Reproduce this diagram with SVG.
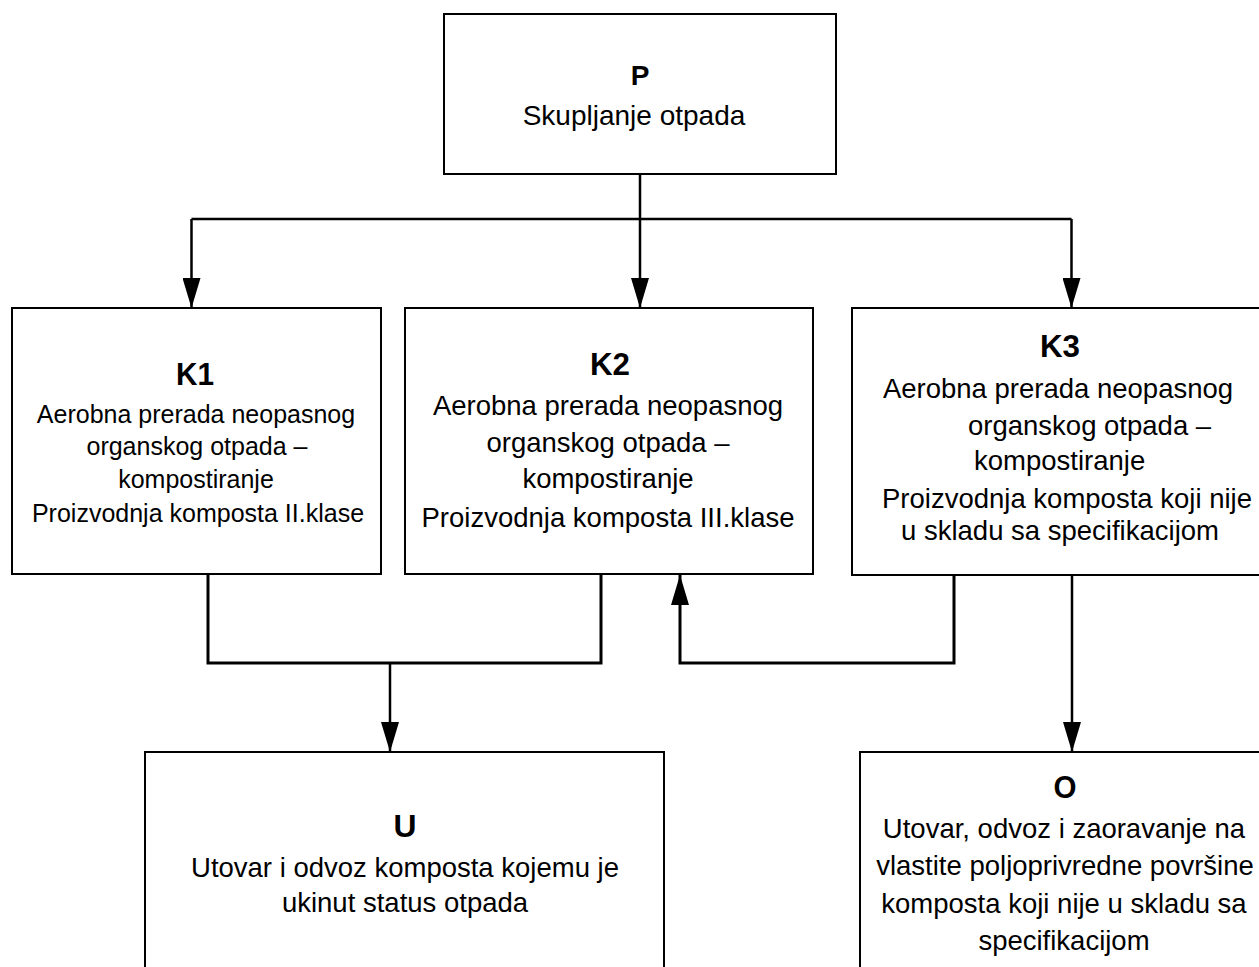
<svg xmlns="http://www.w3.org/2000/svg" width="1259" height="967" viewBox="0 0 1259 967">
  <style>
    .box { fill: #ffffff; stroke: #000000; stroke-width: 2; }
    .conn { fill: none; stroke: #000000; stroke-width: 2.5; }
    .thick { stroke-width: 3; }
    .title { font-family: "Liberation Sans", Arial, sans-serif; font-weight: bold; fill: #000000; text-anchor: middle; }
    .body { font-family: "Liberation Sans", Arial, sans-serif; fill: #000000; text-anchor: middle; }
    .left { text-anchor: start; }
  </style>
  <defs>
    <marker id="arrow" markerUnits="userSpaceOnUse" markerWidth="30" markerHeight="18" refX="30" refY="9" orient="auto">
      <path d="M0,0 L30,9 L0,18 z" fill="#000000"/>
    </marker>
  </defs>
  <rect width="1259" height="967" fill="#ffffff"/>

  <g id="connectors">
    <path class="conn" d="M640,174 V219"/>
    <path class="conn" d="M191.5,219 H1071.5"/>
    <path class="conn" d="M191.5,219 V308" marker-end="url(#arrow)"/>
    <path class="conn" d="M640,219 V308" marker-end="url(#arrow)"/>
    <path class="conn" d="M1071.5,219 V308" marker-end="url(#arrow)"/>
    <path class="conn thick" d="M208,574 V663 H601 V574"/>
    <path class="conn" d="M390,663 V752" marker-end="url(#arrow)"/>
    <path class="conn thick" d="M954,575 V663 H680 V575" marker-end="url(#arrow)"/>
    <path class="conn" d="M1072,575 V752" marker-end="url(#arrow)"/>
  </g>

  <g id="node-P">
    <rect class="box" x="444" y="14" width="392" height="160"/>
    <text class="title" x="640" y="85" font-size="28">P</text>
    <text class="body" x="634" y="125" font-size="28">Skupljanje otpada</text>
  </g>

  <g id="node-K1">
    <rect class="box" x="12" y="308" width="369" height="266"/>
    <text class="title" x="195" y="385" font-size="32" textLength="38" lengthAdjust="spacingAndGlyphs">K1</text>
    <text class="body" x="196" y="423" font-size="25">Aerobna prerada neopasnog</text>
    <text class="body" x="197" y="455" font-size="25">organskog otpada –</text>
    <text class="body" x="196" y="488" font-size="25">kompostiranje</text>
    <text class="body" x="198" y="522" font-size="25">Proizvodnja komposta II.klase</text>
  </g>

  <g id="node-K2">
    <rect class="box" x="405" y="308" width="408" height="266"/>
    <text class="title" x="610" y="375" font-size="32" textLength="40" lengthAdjust="spacingAndGlyphs">K2</text>
    <text class="body" x="608" y="415" font-size="27.5">Aerobna prerada neopasnog</text>
    <text class="body" x="608" y="452" font-size="27.5">organskog otpada –</text>
    <text class="body" x="608" y="488" font-size="27.5">kompostiranje</text>
    <text class="body" x="608" y="527" font-size="27.5">Proizvodnja komposta III.klase</text>
  </g>

  <g id="node-K3">
    <rect class="box" x="852" y="308" width="420" height="267"/>
    <text class="title" x="1060" y="357" font-size="32" textLength="40" lengthAdjust="spacingAndGlyphs">K3</text>
    <text class="body" x="1058" y="398" font-size="27.5">Aerobna prerada neopasnog</text>
    <text class="body left" x="968" y="435" font-size="27.5">organskog otpada –</text>
    <text class="body left" x="974" y="470" font-size="27.5">kompostiranje</text>
    <text class="body" x="1067" y="508" font-size="27.5">Proizvodnja komposta koji nije</text>
    <text class="body" x="1060" y="540" font-size="27.5">u skladu sa specifikacijom</text>
  </g>

  <g id="node-U">
    <rect class="box" x="145" y="752" width="519" height="230"/>
    <text class="title" x="405" y="837" font-size="32" textLength="23" lengthAdjust="spacingAndGlyphs">U</text>
    <text class="body" x="405" y="877" font-size="27.5">Utovar i odvoz komposta kojemu je</text>
    <text class="body" x="405" y="912" font-size="27.5">ukinut status otpada</text>
  </g>

  <g id="node-O">
    <rect class="box" x="860" y="752" width="420" height="230"/>
    <text class="title" x="1065" y="798" font-size="32" textLength="23" lengthAdjust="spacingAndGlyphs">O</text>
    <text class="body" x="1064" y="838" font-size="27.5">Utovar, odvoz i zaoravanje na</text>
    <text class="body" x="1065" y="875" font-size="27.5">vlastite poljoprivredne površine</text>
    <text class="body" x="1064" y="913" font-size="27.5">komposta koji nije u skladu sa</text>
    <text class="body" x="1064" y="950" font-size="27.5">specifikacijom</text>
  </g>
</svg>
